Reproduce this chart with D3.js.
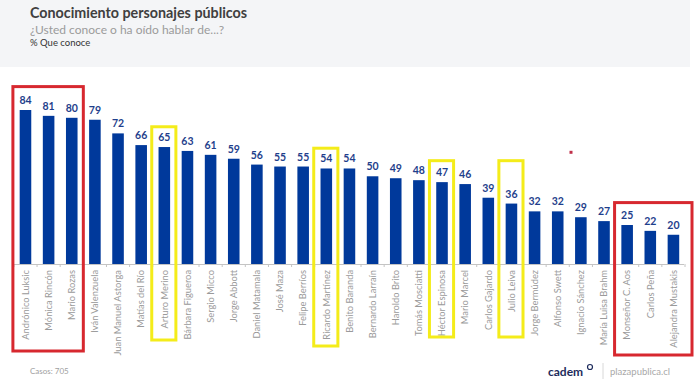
<!DOCTYPE html>
<html>
<head>
<meta charset="utf-8">
<script src="https://cdn.jsdelivr.net/npm/d3@7"></script>
<style>
  body { margin: 0; background: #fff; }
  svg { display: block; font-family: Lato, "Open Sans", sans-serif; }
</style>
</head>
<body>
<svg id="chart" width="700" height="389"></svg>
<script>
// Personajes y % que conoce
var names = [
  'Andrónico Luksic', 'Mónica Rincón', 'Mario Rozas', 'Iván Valenzuela',
  'Juan Manuel Astorga', 'Matías del Río', 'Arturo Merino', 'Bárbara Figueroa',
  'Sergio Micco', 'Jorge Abbott', 'Daniel Matamala', 'José Maza',
  'Felipe Berríos', 'Ricardo Martínez', 'Benito Baranda', 'Bernardo Larraín',
  'Haroldo Brito', 'Tomás Mosciatti', 'Héctor Espinosa', 'Mario Marcel',
  'Carlos Gajardo', 'Julio Leiva', 'Jorge Bermúdez', 'Alfonso Swett',
  'Ignacio Sánchez', 'María Luisa Brahm', 'Monseñor C. Aos', 'Carlos Peña',
  'Alejandra Mustakis'
];
var values = [84, 81, 80, 79, 72, 66, 65, 63, 61, 59, 56, 55, 55, 54, 54,
  50, 49, 48, 47, 46, 39, 36, 32, 32, 29, 27, 25, 22, 20];

// Recuadros de resaltado: primer y último índice, tope en % y extensión bajo el eje
var boxFrom = [0, 6, 13, 18, 21, 26];
var boxTo = [2, 6, 13, 18, 21, 28];
var boxTop = [96, 75.4, 64.4, 58, 58, 36.5];
var boxBelow = [87, 76, 82, 73, 73, 91];
var boxColor = ['#d7282f', '#f4ec1a', '#f4ec1a', '#f4ec1a', '#f4ec1a', '#d7282f'];

var svg = d3.select('#chart');

// Header background
svg.append('rect')
  .attr('x', 0).attr('y', 0)
  .attr('width', 690).attr('height', 67)
  .attr('fill', '#f4f5f7');

svg.append('text')
  .attr('x', 30).attr('y', 18)
  .attr('font-size', 14.3).attr('font-weight', 700)
  .attr('fill', '#404040')
  .text('Conocimiento personajes públicos');
svg.append('text')
  .attr('x', 30).attr('y', 34)
  .attr('font-size', 12).attr('fill', '#9b9b9b')
  .text('¿Usted conoce o ha oído hablar de...?');
svg.append('text')
  .attr('x', 30).attr('y', 46)
  .attr('font-size', 9.5).attr('fill', '#333')
  .text('% Que conoce');

var x = d3.scaleBand()
  .domain(names)
  .range([13.9, 685])
  .paddingInner(0.5)
  .paddingOuter(0.25);

var y = d3.scaleLinear()
  .domain([5, 84])
  .range([264, 110]);

var baseY = y(5);

// Bars
svg.append('g').selectAll('rect')
  .data(values)
  .join('rect')
  .attr('x', function (d, i) { return x(names[i]); })
  .attr('y', function (d) { return y(d); })
  .attr('width', x.bandwidth())
  .attr('height', function (d) { return baseY - y(d); })
  .attr('fill', '#00399b');

// Value labels
svg.append('g').selectAll('text')
  .data(values)
  .join('text')
  .attr('x', function (d, i) { return x(names[i]) + x.bandwidth() / 2; })
  .attr('y', function (d) { return y(d) - 6; })
  .attr('text-anchor', 'middle')
  .attr('font-size', 10.5).attr('font-weight', 700)
  .attr('fill', '#1f3f8c')
  .text(function (d) { return d; });

// Axis
var axis = svg.append('g')
  .attr('transform', 'translate(0,' + baseY + ')')
  .call(d3.axisBottom(x).tickSize(0).tickPadding(0));
axis.select('.domain').attr('stroke', '#c4c4c4').attr('d', 'M13,0.5H684');
axis.selectAll('.tick text')
  .attr('transform', 'rotate(-90)')
  .attr('text-anchor', 'end')
  .attr('x', -6).attr('y', 0).attr('dy', '0.35em')
  .attr('font-family', 'Lato, sans-serif')
  .attr('font-size', 9.3)
  .attr('fill', '#9a9a9a');

// Boundary ticks
var step = x.step();
var x0 = x.range()[0];
svg.append('g').selectAll('line')
  .data(d3.range(names.length + 1))
  .join('line')
  .attr('x1', function (k) { return x0 + k * step; })
  .attr('x2', function (k) { return x0 + k * step; })
  .attr('y1', baseY).attr('y2', baseY + 3)
  .attr('stroke', '#c4c4c4');

// Highlight boxes
svg.append('g').selectAll('rect')
  .data(boxFrom)
  .join('rect')
  .attr('x', function (d) { return x0 + d * step - 1; })
  .attr('y', function (d, i) { return y(boxTop[i]); })
  .attr('width', function (d, i) { return (boxTo[i] - d + 1) * step + (i === 5 ? 8 : 1); })
  .attr('height', function (d, i) { return baseY + boxBelow[i] - y(boxTop[i]); })
  .attr('fill', 'none')
  .attr('stroke', function (d, i) { return boxColor[i]; })
  .attr('stroke-width', 3);

// stray mark
svg.append('rect')
  .attr('x', 569.5).attr('y', 150.8)
  .attr('width', 3).attr('height', 3)
  .attr('fill', '#c0304a');

// Footer
svg.append('text')
  .attr('x', 30).attr('y', 374)
  .attr('font-size', 8).attr('fill', '#a0a0a0')
  .text('Casos: 705');
svg.append('text')
  .attr('x', 548).attr('y', 376)
  .attr('font-size', 12).attr('font-weight', 700)
  .attr('fill', '#1d2b5c')
  .text('cadem');
svg.append('circle')
  .attr('cx', 590).attr('cy', 367).attr('r', 2.5)
  .attr('fill', 'none').attr('stroke', '#1d2b5c').attr('stroke-width', 1.2);
svg.append('line')
  .attr('x1', 603).attr('x2', 603).attr('y1', 363).attr('y2', 379)
  .attr('stroke', '#d8d8d8');
svg.append('text')
  .attr('x', 610).attr('y', 375)
  .attr('font-size', 9.5).attr('fill', '#a8a8a8')
  .text('plazapublica.cl');
</script>
</body>
</html>
